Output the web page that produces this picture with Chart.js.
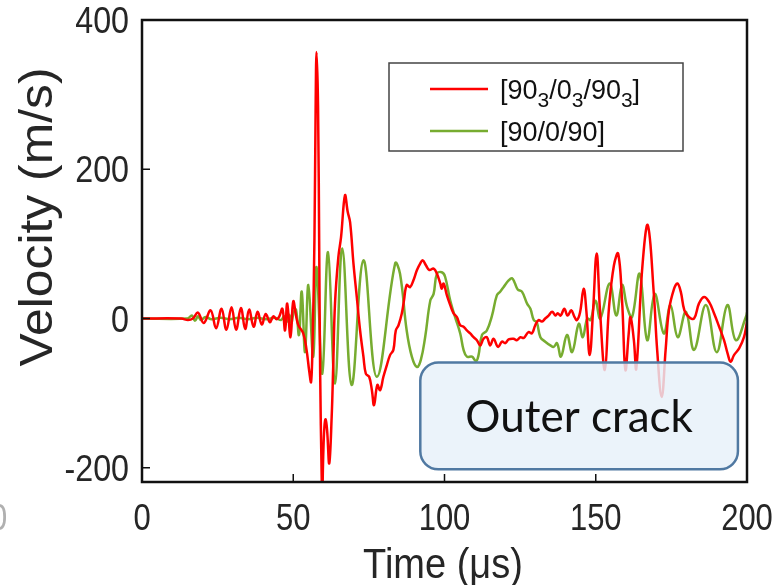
<!DOCTYPE html>
<html>
<head>
<meta charset="utf-8">
<script src="https://cdn.jsdelivr.net/npm/chart.js@4.4.1/dist/chart.umd.min.js"></script>
<style>
  html, body { margin: 0; padding: 0; background: #fff; }
  #wrap { width: 775px; height: 585px; position: relative; }
</style>
</head>
<body>
<div id="wrap"><canvas id="velChart"></canvas></div>
<script>
// axis ticks
const xTicks = [0, 50, 100, 150, 200];
const yTicks = [-200, 0, 200, 400];

// [90_3/0_3/90_3] laminate (red)
const redTime = [0, 13, 15.2, 16.8, 18.5, 20.4, 22.7, 24.5, 26.3, 27.9, 29.6, 31.1, 32.7, 34.1, 35.4, 36.9, 38.2, 39.6, 40.9, 42.3, 43.4, 44.5, 45.4, 46.4, 47.3, 48.0, 49.1, 50.0, 51.0, 51.7, 53.3, 54.4, 55.3, 55.9, 56.4, 57.0, 57.4, 57.7, 58.2, 58.6, 58.9, 59.4, 59.6, 59.9, 60.3, 60.7, 61.2, 61.9, 62.7, 63.2, 63.8, 64.9, 65.8, 67.1, 68.0, 68.8, 69.9, 71.0, 72.1, 73.2, 74.0, 75.1, 76.0, 76.7, 77.8, 78.7, 79.8, 80.9, 82.0, 83.1, 83.9, 84.8, 85.9, 86.6, 87.5, 88.6, 89.7, 90.9, 92.0, 92.8, 93.9, 95.0, 96.4, 97.5, 98.6, 99.1, 99.7, 100.8, 101.9, 103.0, 104.1, 105.2, 106.3, 107.4, 108.5, 109.6, 110.7, 111.8, 112.9, 114.0, 115.1, 116.2, 117.7, 119.0, 120.1, 121.2, 122.8, 123.9, 125.1, 126.2, 127.8, 128.9, 130.0, 131.1, 132.2, 133.3, 134.4, 135.6, 136.7, 137.4, 138.4, 139.6, 140.7, 141.9, 143.0, 143.8, 144.8, 146.0, 146.9, 148.0, 149.1, 150.3, 151.4, 153.0, 154.4, 156.0, 157.4, 158.7, 159.8, 160.9, 161.5, 162.6, 163.4, 165.4, 167.2, 169.2, 170.3, 171.8, 173.1, 174.2, 175.9, 177.0, 178.1, 179.3, 180.8, 182.5, 184.1, 185.8, 187.5, 189.1, 190.8, 192.4, 193.6, 194.6, 195.7, 197.4, 199.0, 200];
const redVel = [0, 0, -2, 0, 8, -6, 11, -13, 13, -15, 15, -15, 14, -14, 12, -11, 9, -8, 6, -5, 3, -1, 3, 13, -16, 20, -25, 23, 2, -9, -20, -42, -71, -85, -29, 105, 283, 357, 283, 82, -74, -212, -235, -185, -145, -135, -150, -194, -132, -65, 20, 82, 109, 165, 143, 129, 74, 29, -16, -51, -74, -78, -96, -116, -89, -96, -78, -63, -49, -42, -16, -9, 7, 24, 45, 42, 51, 65, 74, 78, 71, 65, 67, 60, 47, 40, 47, 31, 18, 7, 2, -9, -11, -16, -20, -25, -29, -36, -27, -25, -36, -27, -38, -31, -33, -28, -27, -29, -25, -26, -18, -20, -9, -2, -4, 0, 4, 9, 4, 7, 4, 13, 4, 11, 2, -2, 8, 40, 10, -49, 10, 87, 11, -69, 16, 71, 87, 24, -69, -20, 2, -29, -67, 69, 125, 33, -42, -105, -42, 11, 40, 47, 36, 11, 2, 0, 20, 29, 22, 7, -11, -29, -47, -58, -49, -40, -25, -5];

// [90/0/90] laminate (green)
const greenTime = [0, 15, 16.5, 17.5, 18.5, 19.5, 21, 23, 26, 29, 32, 35, 38, 41, 44, 46, 47, 48, 48.7, 49.4, 50.1, 50.9, 51.9, 52.8, 53.9, 55.0, 56.6, 57.7, 59.6, 61.5, 63.8, 66.2, 69.3, 73.2, 77.6, 83.7, 85.3, 87.5, 89.2, 90.9, 92.2, 93.6, 95.3, 96.4, 97.5, 99.1, 100.2, 101.9, 103.5, 105.2, 106.3, 107.4, 109.1, 110.4, 111.2, 112.4, 114.0, 115.7, 117.3, 118.4, 119.5, 121.2, 122.3, 123.2, 124.2, 125.6, 127.3, 128.4, 129.5, 130.5, 131.7, 133.3, 135.0, 136.1, 137.2, 138.5, 140.5, 142.2, 144.4, 145.7, 147.2, 148.3, 149.9, 151.5, 154.6, 156.8, 158.7, 160.4, 162.0, 164.5, 167.0, 169.5, 172.5, 174.7, 177.1, 179.8, 182.5, 186.4, 190.0, 193.5, 196.3, 199.8, 200];
const greenVel = [0, 0, 4, -3, 3, -2, 2, -1, 1, -1, 1, -1, 1, -1, 1, -2, 3, -4, 5, -6, 8, 12, -22, 36, -45, 45, -51, 69, -74, 89, -87, 94, -89, 78, -78, 74, 60, -16, -51, -65, -55, -25, 24, 33, 60, 62, 56, 24, 2, -20, -42, -51, -51, -57, -50, -22, -16, 4, 31, 36, 42, 51, 54, 48, 39, 36, 20, 13, -2, -5, -25, -31, -36, -38, -33, -51, -22, -45, -7, -25, 0, -2, 24, 0, 47, 4, 45, 15, 2, 60, -29, 33, -20, 18, -25, 9, -42, 18, -45, 18, -29, 4, 8];

const legendLabels = [
  { parts: [["[90", 0], ["3", 1], ["/0", 0], ["3", 1], ["/90", 0], ["3", 1], ["]", 0]], color: "#ff0000" },
  { parts: [["[90/0/90]", 0]], color: "#77ac30" },
];
const boxText = "Outer crack";
const xTitle = "Time (\u03bcs)";
const yTitle = "Velocity (m/s)";

const toPoints = (xs, ys) => xs.map((x, i) => ({ x: x, y: ys[i] }));

const SANS = "'Liberation Sans', Arial, sans-serif";

// text drawn with a stretch, the source figure was resized unevenly
function stretchedText(ctx, txt, x, y, size, sx, sy, align, rot) {
  ctx.save();
  ctx.translate(x, y);
  if (rot) ctx.rotate(rot);
  ctx.scale(sx, sy);
  ctx.font = size + "px " + SANS;
  ctx.textAlign = align;
  ctx.textBaseline = "alphabetic";
  ctx.fillText(txt, 0, 0);
  ctx.restore();
}

const framePlugin = {
  id: "frame",
  afterDatasetsDraw(chart) {
    const { ctx, scales } = chart;
    ctx.save();
    // annotation box sits over the curves
    const bx = scales.x.getPixelForValue(92.0);
    const bx2 = scales.x.getPixelForValue(197.0);
    const by = scales.y.getPixelForValue(-59);
    const by2 = scales.y.getPixelForValue(-202);
    ctx.beginPath();
    ctx.roundRect(bx, by, bx2 - bx, by2 - by, 18);
    ctx.fillStyle = "rgba(230,240,249,0.82)";
    ctx.fill();
    ctx.lineWidth = 2.5;
    ctx.strokeStyle = "#5079a2";
    ctx.stroke();
    ctx.fillStyle = "#111";
    ctx.font = "44px Lato, 'Open Sans', sans-serif";
    ctx.textAlign = "center";
    ctx.textBaseline = "middle";
    ctx.fillText(boxText, (bx + bx2) / 2, (by + by2) / 2 + 2);
    ctx.restore();
  },
  afterDraw(chart) {
    const { ctx, chartArea: a, scales } = chart;
    ctx.save();
    ctx.strokeStyle = "#111";
    ctx.lineWidth = 2.5;
    ctx.strokeRect(a.left, a.top, a.right - a.left, a.bottom - a.top);
    ctx.lineWidth = 1.5;
    ctx.beginPath();
    xTicks.forEach((v) => {
      const px = scales.x.getPixelForValue(v);
      ctx.moveTo(px, a.bottom);
      ctx.lineTo(px, a.bottom - 8);
    });
    yTicks.forEach((v) => {
      const py = scales.y.getPixelForValue(v);
      ctx.moveTo(a.left, py);
      ctx.lineTo(a.left + 8, py);
    });
    ctx.stroke();

    // tick labels
    ctx.fillStyle = "#262626";
    xTicks.forEach((v) => {
      stretchedText(ctx, String(v), scales.x.getPixelForValue(v), 530, 31, 1, 1.2, "center");
    });
    yTicks.forEach((v) => {
      stretchedText(ctx, String(v), 129, scales.y.getPixelForValue(v) + 13, 31, 1.04, 1.2, "right");
    });
    // edge of the neighbouring panel's label
    ctx.fillStyle = "#b0b0b0";
    stretchedText(ctx, "0", -10, 530, 31, 1, 1.2, "left");

    // axis titles
    ctx.fillStyle = "#262626";
    stretchedText(ctx, xTitle, 443, 578, 38, 1, 1.12, "center");
    stretchedText(ctx, yTitle, 52, 217, 47, 1.06, 1, "center", -Math.PI / 2);
    ctx.restore();

    // legend
    ctx.save();
    const lx = 389, ly = 63, lw = 294, lh = 88;
    ctx.fillStyle = "#fff";
    ctx.fillRect(lx, ly, lw, lh);
    ctx.strokeStyle = "#444";
    ctx.lineWidth = 1.5;
    ctx.strokeRect(lx, ly, lw, lh);
    const rows = [89, 131];
    legendLabels.forEach((item, i) => {
      const y = rows[i];
      ctx.strokeStyle = item.color;
      ctx.lineWidth = 2.5;
      ctx.beginPath();
      ctx.moveTo(430, y);
      ctx.lineTo(488, y);
      ctx.stroke();
      let x = 500;
      ctx.fillStyle = "#111";
      ctx.textBaseline = "alphabetic";
      ctx.textAlign = "left";
      item.parts.forEach(([txt, sub]) => {
        ctx.font = (sub ? "21px " : "27px ") + SANS;
        ctx.fillText(txt, x, sub ? y + 18 : y + 10);
        x += ctx.measureText(txt).width;
      });
    });
    ctx.restore();
  },
};

new Chart(document.getElementById("velChart"), {
  type: "line",
  data: {
    datasets: [
      {
        label: "[90_3/0_3/90_3]",
        data: toPoints(redTime, redVel),
        borderColor: "#ff0000",
        borderWidth: 2.5,
        pointRadius: 0,
        tension: 0.4,
        fill: false,
      },
      {
        label: "[90/0/90]",
        data: toPoints(greenTime, greenVel),
        borderColor: "#77ac30",
        borderWidth: 2.5,
        pointRadius: 0,
        tension: 0.4,
        fill: false,
      },
    ],
  },
  options: {
    responsive: true,
    maintainAspectRatio: false,
    animation: false,
    events: [],
    layout: { padding: { top: 20, right: 28, left: 0, bottom: 0 } },
    plugins: { legend: { display: false }, tooltip: { enabled: false } },
    scales: {
      x: {
        type: "linear",
        min: 0,
        max: 200,
        grid: { display: false },
        border: { display: false },
        afterBuildTicks: (s) => { s.ticks = xTicks.map((v) => ({ value: v })); },
        afterFit: (s) => { s.height = 103; },
        ticks: { display: false },
      },
      y: {
        min: -219,
        max: 400,
        grid: { display: false },
        border: { display: false },
        afterBuildTicks: (s) => { s.ticks = yTicks.map((v) => ({ value: v })); },
        afterFit: (s) => { s.width = 142; },
        ticks: { display: false },
      },
    },
  },
  plugins: [framePlugin],
});
</script>
</body>
</html>
